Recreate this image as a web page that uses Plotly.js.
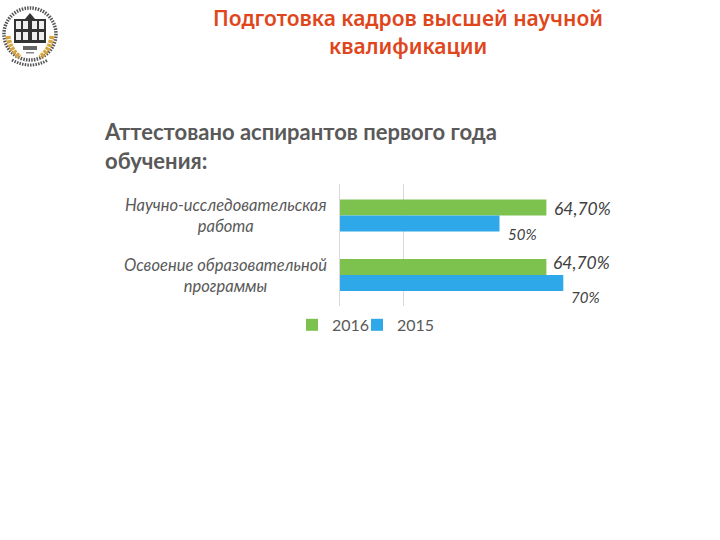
<!DOCTYPE html>
<html><head><meta charset="utf-8">
<script src="https://cdn.plot.ly/plotly-3.0.1.min.js"></script>
<style>html,body{margin:0;padding:0;background:#fff}#c{width:720px;height:540px}.legend .scrollbox{clip-path:none !important}.legend .legendtoggle{display:none}</style></head>
<body><div id="c"></div>
<script>
const categories = ['Научно-исследовательская<br>работа', 'Освоение образовательной<br>программы'];
const seriesNames = ['2016', '2015'];
const values2016 = [64.7, 64.7];
const values2015 = [50, 70];
const labels2016 = ['64,70%', '64,70%'];
const labels2015 = ['50%', '70%'];
const gridTicks = [0, 20];
const titleLines = ['Подготовка кадров высшей научной', 'квалификации'];
const chartSubtitle = 'Аттестовано аспирантов первого года<br>обучения:';

const grey = '#595959';
const logo = `<svg xmlns="http://www.w3.org/2000/svg" width="64" height="72" viewBox="0 0 64 72">
<circle cx="30" cy="34" r="26" fill="none" stroke="#555" stroke-width="3.5" stroke-dasharray="1.5 1.2"/>
<path d="M8 36 Q10 50 20 57" fill="none" stroke="#d8a53c" stroke-width="5" stroke-dasharray="3 1"/>
<path d="M52 36 Q50 50 40 57" fill="none" stroke="#d8a53c" stroke-width="5" stroke-dasharray="3 1"/>
<rect x="14" y="19" width="32" height="24" fill="#333"/>
<path d="M25 19 L30 13 L35 19 Z" fill="#333"/>
<g fill="#eee"><rect x="16" y="21" width="5" height="8"/><rect x="23" y="21" width="5" height="8"/><rect x="32" y="21" width="5" height="8"/><rect x="39" y="21" width="5" height="8"/>
<rect x="16" y="32" width="5" height="8"/><rect x="23" y="32" width="5" height="8"/><rect x="32" y="32" width="5" height="8"/><rect x="39" y="32" width="5" height="8"/></g>
<rect x="23" y="46" width="14" height="4" fill="#666"/>
<rect x="26" y="52" width="8" height="1.5" fill="#888"/>
<path d="M12 60 Q30 70 48 60" fill="none" stroke="#555" stroke-width="3" stroke-dasharray="1.5 1.2"/>
</svg>`;

const trace = (name, vals, color) => ({
  type: 'bar', orientation: 'h', name, x: vals, y: categories,
  marker: {color}, cliponaxis: false
});
const dataLabel = (x, y, text, size, dx, dy) => ({
  xref: 'x', yref: 'y', x, y, text, showarrow: false, xanchor: 'center', yanchor: 'middle',
  xshift: dx, yshift: dy,
  font: {family: 'Lato, sans-serif', size, color: '#404040', style: 'italic'}
});
const annotations = [
  ...categories.map(c => ({
    xref: 'paper', yref: 'y', x: -0.034, y: c, text: c, showarrow: false,
    xanchor: 'right', yanchor: 'middle', align: 'center',
    font: {family: 'Lato, sans-serif', size: 16.5, color: grey, style: 'italic'}
  })),
  dataLabel(values2016[0], categories[0], labels2016[0], 17.5, 36, 7),
  dataLabel(values2015[0], categories[0], labels2015[0], 15, 23, -18),
  dataLabel(values2016[1], categories[1], labels2016[1], 17.5, 35, 13),
  dataLabel(values2015[1], categories[1], labels2015[1], 15, 22, -22),
  ...titleLines.map((t, i) => ({
    xref: 'paper', yref: 'paper', x: (408-340)/319, y: (306-(18+28*i))/122, text: t, showarrow: false,
    xanchor: 'center', yanchor: 'middle',
    font: {family: '"Noto Sans", sans-serif', size: 21, color: '#E0461B', weight: 600}
  })),
  {xref: 'paper', yref: 'paper', x: (102-340)/319, y: (306-146)/122, text: chartSubtitle, showarrow: false,
   xanchor: 'left', yanchor: 'middle', align: 'left',
   font: {family: 'Lato, sans-serif', size: 22, color: grey, weight: 700}}
];

Plotly.newPlot('c', [trace(seriesNames[0], values2016, '#7DC24F'), trace(seriesNames[1], values2015, '#2EA8E8')], {
  width: 720, height: 540,
  margin: {l: 340, r: 61, t: 184, b: 234},
  paper_bgcolor: '#fff', plot_bgcolor: '#fff',
  barmode: 'group', bargap: 0.46, bargroupgap: 0,
  showlegend: true,
  legend: {orientation: 'h', x: (292-340)/319, xanchor: 'left', y: -0.155, yanchor: 'middle',
           font: {family: 'Lato, sans-serif', size: 16, color: grey}, traceorder: 'normal',
           itemwidth: 30, entrywidth: 20, entrywidthmode: 'pixels', bgcolor: 'rgba(0,0,0,0)'},
  xaxis: {range: [0, 100], tickmode: 'array', tickvals: gridTicks, showticklabels: false,
          showgrid: true, gridcolor: '#D9D9D9', gridwidth: 1, zeroline: false, showline: false, ticks: ''},
  yaxis: {type: 'category', range: [1.52, -0.53], showticklabels: false, ticks: '',
          showgrid: false, zeroline: false, showline: true, linecolor: '#D9D9D9', linewidth: 1},
  annotations,
  images: [{source: 'data:image/svg+xml;utf8,' + encodeURIComponent(logo), xref: 'paper', yref: 'paper',
            x: (0-340)/319, y: (306-0)/122, sizex: 64/319, sizey: 72/122,
            xanchor: 'left', yanchor: 'top', sizing: 'stretch', layer: 'above'}]
}, {displayModeBar: false, staticPlot: true}).then(gd => {
  gd.querySelectorAll('.legend .scrollbox').forEach(el => el.removeAttribute('clip-path'));
});
</script></body></html>
